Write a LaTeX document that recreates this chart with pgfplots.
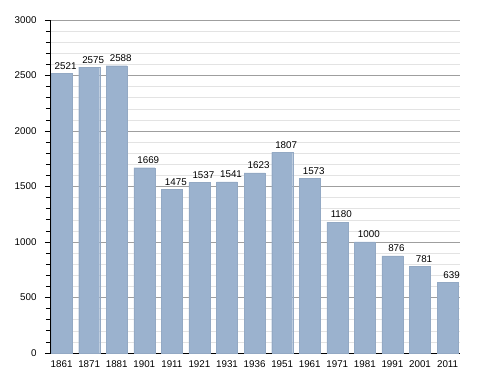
\documentclass[border=0pt]{standalone}
\usepackage{fontspec}
\setmainfont{Liberation Sans}
\usepackage{pgfplots}
\pgfplotsset{compat=1.18}
\definecolor{barc}{RGB}{155,178,206}
\begin{document}
\begin{tikzpicture}[x=1pt,y=1pt]
\begin{axis}[
  scale only axis,
  width=410pt, height=333pt,
  xmin=-0.42, xmax=14.45,
  ymin=0, ymax=3000,
  axis x line*=bottom,
  axis y line*=left,
  axis line style={black, line width=0.8pt},
  xtick={0,...,14},
  xticklabels={1861,1871,1881,1901,1911,1921,1931,1936,1951,1961,1971,1981,1991,2001,2011},
  x tick style={draw=none},
  ytick={0,500,...,3000},
  minor y tick num=4,
  ymajorgrids, yminorgrids,
  major grid style={draw=gray!75, line width=0.6pt},
  minor grid style={draw=gray!22, line width=0.5pt},
  y tick style={black, line width=0.6pt},
  tick align=outside,
  major tick length=5pt,
  minor tick length=4pt,
  /pgf/number format/assume math mode=true,
  /pgf/number format/1000 sep={},
  tick label style={font=\fontsize{9.8}{11}\selectfont},
  yticklabel style={xshift=-5pt},
  xticklabel style={yshift=1pt},
  clip=false,
  nodes near coords,
  every node near coord/.append style={font=\fontsize{9.8}{11}\selectfont, xshift=4pt, yshift=0.5pt},
]
\addplot[ybar, bar width=0.76, fill=barc, draw=barc!95!black, line width=0.2pt] coordinates {
(0,2521) (1,2575) (2,2588) (3,1669) (4,1475) (5,1537) (6,1541) (7,1623)
(8,1807) (9,1573) (10,1180) (11,1000) (12,876) (13,781) (14,639)
};
\end{axis}
\path ([shift={(-50pt,-20pt)}]current axis.south west) rectangle ([shift={(28pt,20pt)}]current axis.north east);
\end{tikzpicture}
\end{document}
